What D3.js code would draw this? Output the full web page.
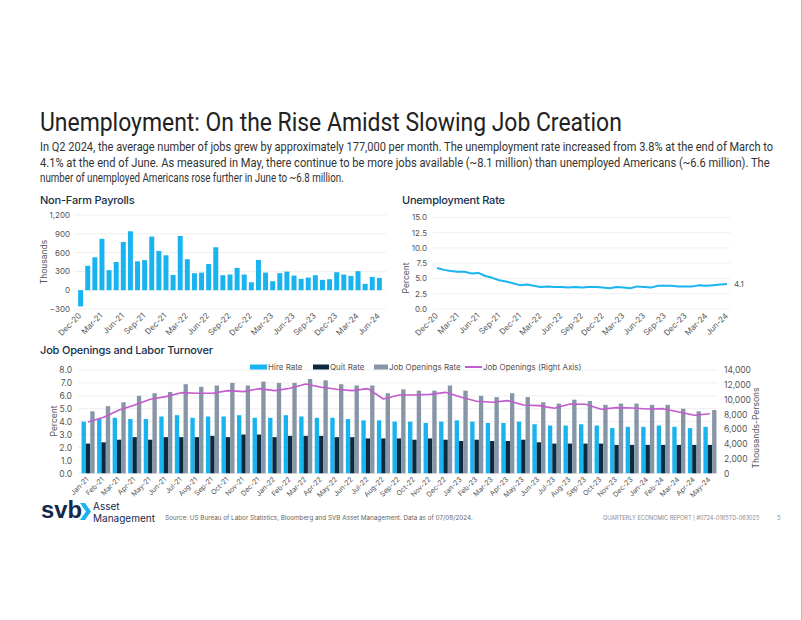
<!DOCTYPE html>
<html><head><meta charset="utf-8">
<script src="https://cdn.jsdelivr.net/npm/d3@7/dist/d3.min.js"></script>
<style>body{margin:0;background:#fff}svg{display:block}</style>
</head><body>
<script>
// ---------- DATA ----------
const nfpMonths = ["Dec-20","Jan-21","Feb-21","Mar-21","Apr-21","May-21","Jun-21","Jul-21","Aug-21","Sep-21","Oct-21","Nov-21","Dec-21",
"Jan-22","Feb-22","Mar-22","Apr-22","May-22","Jun-22","Jul-22","Aug-22","Sep-22","Oct-22","Nov-22","Dec-22",
"Jan-23","Feb-23","Mar-23","Apr-23","May-23","Jun-23","Jul-23","Aug-23","Sep-23","Oct-23","Nov-23","Dec-23",
"Jan-24","Feb-24","Mar-24","Apr-24","May-24","Jun-24"];
const nfpValues = [-260,390,525,820,320,450,770,940,460,480,855,627,557,
244,865,494,271,281,419,685,239,250,356,250,127,
483,281,143,271,297,234,181,202,239,165,175,287,
250,228,303,101,212,196];
const monthlyTicks = ["Dec-20","Mar-21","Jun-21","Sep-21","Dec-21","Mar-22","Jun-22","Sep-22","Dec-22","Mar-23","Jun-23","Sep-23","Dec-23","Mar-24","Jun-24"];
const nfpYTicks = [-300,0,300,600,900,1200];

const unempValues = [6.7,6.4,6.2,6.1,6.1,5.8,5.9,5.4,5.1,4.7,4.5,4.2,3.9,
4.0,3.8,3.6,3.7,3.6,3.6,3.5,3.6,3.5,3.6,3.6,3.5,
3.4,3.6,3.5,3.4,3.7,3.6,3.5,3.8,3.8,3.8,3.7,3.7,
3.7,3.9,3.8,3.9,4.0,4.1];
const unempYTicks = [0,2.5,5,7.5,10,12.5,15];

const joltsMonths = ["Jan-21","Feb-21","Mar-21","Apr-21","May-21","Jun-21","Jul-21","Aug-21","Sep-21","Oct-21","Nov-21","Dec-21",
"Jan-22","Feb-22","Mar-22","Apr-22","May-22","Jun-22","Jul-22","Aug-22","Sep-22","Oct-22","Nov-22","Dec-22",
"Jan-23","Feb-23","Mar-23","Apr-23","May-23","Jun-23","Jul-23","Aug-23","Sep-23","Oct-23","Nov-23","Dec-23",
"Jan-24","Feb-24","Mar-24","Apr-24","May-24"];
const hireRate = [4.0,4.2,4.3,4.2,4.2,4.4,4.5,4.3,4.4,4.4,4.5,4.3,
4.3,4.5,4.4,4.3,4.3,4.2,4.1,4.1,4.0,4.0,3.9,4.0,
4.1,4.0,3.9,3.9,4.0,3.8,3.7,3.7,3.8,3.7,3.5,3.6,
3.6,3.7,3.6,3.5,3.6];
const quitRate = [2.3,2.4,2.6,2.8,2.6,2.8,2.8,2.8,2.9,2.8,3.0,3.0,
2.8,2.9,2.9,2.9,2.8,2.8,2.7,2.7,2.7,2.6,2.7,2.6,
2.5,2.6,2.5,2.5,2.6,2.4,2.3,2.3,2.3,2.3,2.2,2.2,
2.2,2.2,2.2,2.2,2.2];
const openingsRate = [4.8,5.2,5.5,6.0,6.2,6.3,6.9,6.7,6.8,7.0,6.8,7.1,
7.0,7.0,7.3,7.2,6.9,6.8,6.8,6.2,6.5,6.4,6.4,6.8,
6.4,6.0,5.9,6.2,5.9,5.5,5.4,5.7,5.6,5.3,5.4,5.4,
5.3,5.3,5.0,4.8,4.9];
const jobOpenings = [6950,7590,8580,9260,10030,10390,10930,10840,10840,11200,11070,11470,
11200,11520,12100,11660,11390,11200,11470,10070,10610,10610,10700,10970,
10300,9760,9620,9850,9260,9170,8810,9390,9350,8670,8900,8850,
8720,8760,8310,7860,8080];
const joltsLeftTicks = [0,1,2,3,4,5,6,7,8];
const joltsRightTicks = [0,2000,4000,6000,8000,10000,12000,14000];
const seriesNames = ["Hire Rate","Quit Rate","Job Openings Rate","Job Openings (Right Axis)"];

// ---------- STYLE ----------
const C = {hire:"#19b3ef", quit:"#0c2a3f", open:"#8796a6", mag:"#c25bcb", line:"#1ab4f0", grid:"#efefef", tick:"#555", navy:"#17304a"};
const tickFont = "Inter, 'Noto Sans', sans-serif";
const narrow = "'Liberation Sans Narrow', 'Roboto', sans-serif";

const svg = d3.select("body").append("svg").attr("width",802).attr("height",620);
svg.append("rect").attr("width",802).attr("height",620).attr("fill","#fff");
svg.append("line").attr("x1",801.5).attr("x2",801.5).attr("y1",0).attr("y2",620).attr("stroke","#bbb");

// text fitted to a given width by horizontal scaling
function fitText(x,y,str,target,size,fill,family){
  const t = svg.append("text").attr("x",0).attr("y",0).attr("font-family",family).attr("font-size",size).attr("fill",fill).text(str);
  const w = t.node().getComputedTextLength();
  const k = w>0 ? target/w : 1;
  t.attr("transform",`translate(${x},${y}) scale(${k},1)`);
  return t;
}

// ---------- HEADER ----------
fitText(40,131,"Unemployment: On the Rise Amidst Slowing Job Creation",582,26,"#222",narrow);
const para = [
 ["In Q2 2024, the average number of jobs grew by approximately 177,000 per month. The unemployment rate increased from 3.8% at the end of March to",734],
 ["4.1% at the end of June. As measured in May, there continue to be more jobs available (~8.1 million) than unemployed Americans (~6.6 million). The",730],
 ["number of unemployed Americans rose further in June to ~6.8 million.",304]];
para.forEach((p,i)=>fitText(40,151+i*15.5,p[0],p[1],12.5,"#333",narrow));

function sectionTitle(x,y,t){svg.append("text").attr("x",x).attr("y",y).attr("font-family",tickFont)
  .attr("font-size",11).attr("font-weight",500).attr("fill",C.navy).attr("letter-spacing",-0.2).text(t);}
sectionTitle(40,204,"Non-Farm Payrolls");
sectionTitle(402,204,"Unemployment Rate");
sectionTitle(40,354,"Job Openings and Labor Turnover");

function styleAxis(g){g.select(".domain").remove();g.selectAll(".tick line").remove();
  g.selectAll("text").attr("font-family",tickFont).attr("font-size",8).attr("fill",C.tick);}
function rotX(g,dy){g.selectAll("text").attr("text-anchor","end").attr("transform",`translate(0,${dy}) rotate(-45)`).attr("dy","0.3em").attr("dx","-0.1em").attr("y",0);}

// ---------- CHART 1: NFP ----------
{
 const x = d3.scaleBand().domain(nfpMonths).range([76,384]).padding(0.3);
 const y = d3.scaleLinear().domain([-300,1200]).range([309,215]);
 svg.append("g").selectAll("line").data(nfpYTicks).join("line").attr("x1",74).attr("x2",386)
   .attr("y1",d=>y(d)).attr("y2",d=>y(d)).attr("stroke",C.grid);
 const ya = svg.append("g").attr("transform","translate(74,0)").call(d3.axisLeft(y).tickValues(nfpYTicks).tickFormat(d3.format(",")).tickSize(0).tickPadding(4));
 styleAxis(ya);
 svg.append("g").selectAll("rect").data(nfpValues).join("rect")
   .attr("x",(d,i)=>x(nfpMonths[i])).attr("width",x.bandwidth())
   .attr("y",d=>y(Math.max(0,d))).attr("height",d=>Math.abs(y(d)-y(0))).attr("fill",C.hire);
 const xa = svg.append("g").attr("transform","translate(0,310)").call(d3.axisBottom(x).tickValues(monthlyTicks).tickSize(0).tickPadding(0));
 styleAxis(xa); rotX(xa,4);
 svg.append("text").attr("transform","translate(47,262) rotate(-90)").attr("text-anchor","middle")
   .attr("font-family",tickFont).attr("font-size",8.5).attr("fill",C.tick).text("Thousands");
}

// ---------- CHART 2: Unemployment ----------
{
 const x = d3.scalePoint().domain(nfpMonths).range([437,727]);
 const y = d3.scaleLinear().domain([0,15]).range([309,217.3]);
 svg.append("g").selectAll("line").data(unempYTicks).join("line").attr("x1",433).attr("x2",730)
   .attr("y1",d=>y(d)).attr("y2",d=>y(d)).attr("stroke",C.grid);
 const ya = svg.append("g").attr("transform","translate(431,0)").call(d3.axisLeft(y).tickValues(unempYTicks).tickFormat(d3.format(".1f")).tickSize(0).tickPadding(4));
 styleAxis(ya);
 svg.append("path").datum(unempValues).attr("fill","none").attr("stroke",C.line).attr("stroke-width",2)
   .attr("stroke-linejoin","round")
   .attr("d",d3.line().x((d,i)=>x(nfpMonths[i])).y(d=>y(d)));
 svg.append("text").attr("x",734).attr("y",y(unempValues[unempValues.length-1])+3).attr("font-family",tickFont)
   .attr("font-size",8).attr("fill",C.tick).text(d3.format(".1f")(unempValues[unempValues.length-1]));
 const xa = svg.append("g").attr("transform","translate(0,310)").call(d3.axisBottom(x).tickValues(monthlyTicks).tickSize(0).tickPadding(0));
 styleAxis(xa); rotX(xa,4);
 svg.append("text").attr("transform","translate(409,278) rotate(-90)").attr("text-anchor","middle")
   .attr("font-family",tickFont).attr("font-size",8.5).attr("fill",C.tick).text("Percent");
}

// ---------- CHART 3: JOLTS ----------
{
 const x0 = d3.scaleBand().domain(joltsMonths).range([80,718]).paddingInner(0.16).paddingOuter(0.1);
 const x1 = d3.scaleBand().domain(seriesNames.slice(0,3)).range([0,x0.bandwidth()]);
 const y = d3.scaleLinear().domain([0,8]).range([473.3,370]);
 const yR = d3.scaleLinear().domain([0,14000]).range([473.3,370]);
 svg.append("g").selectAll("line").data(joltsLeftTicks).join("line").attr("x1",78).attr("x2",718)
   .attr("y1",d=>y(d)).attr("y2",d=>y(d)).attr("stroke",C.grid);
 const ya = svg.append("g").attr("transform","translate(76,0)").call(d3.axisLeft(y).tickValues(joltsLeftTicks).tickFormat(d3.format(".1f")).tickSize(0).tickPadding(4));
 styleAxis(ya); ya.selectAll("text").attr("font-size",8.5);
 const yra = svg.append("g").attr("transform","translate(720,0)").call(d3.axisRight(yR).tickValues(joltsRightTicks).tickFormat(d3.format(",")).tickSize(0).tickPadding(4));
 styleAxis(yra); yra.selectAll("text").attr("font-size",8.5);
 const series = [[hireRate,C.hire,seriesNames[0]],[quitRate,C.quit,seriesNames[1]],[openingsRate,C.open,seriesNames[2]]];
 series.forEach(([vals,col,name])=>{
   svg.append("g").selectAll("rect").data(vals).join("rect")
     .attr("x",(d,i)=>x0(joltsMonths[i])+x1(name)).attr("width",x1.bandwidth())
     .attr("y",d=>y(d)).attr("height",d=>y(0)-y(d)).attr("fill",col);
 });
 svg.append("path").datum(jobOpenings).attr("fill","none").attr("stroke",C.mag).attr("stroke-width",1.6)
   .attr("stroke-linejoin","round")
   .attr("d",d3.line().x((d,i)=>x0(joltsMonths[i])+x0.bandwidth()/2).y(d=>yR(d)));
 const xa = svg.append("g").attr("transform","translate(0,474)").call(d3.axisBottom(x0).tickSize(0).tickPadding(0));
 styleAxis(xa); xa.selectAll("text").attr("font-size",7); rotX(xa,4);
 svg.append("text").attr("transform","translate(57,421) rotate(-90)").attr("text-anchor","middle")
   .attr("font-family",tickFont).attr("font-size",8.5).attr("fill",C.tick).text("Percent");
 svg.append("text").attr("transform","translate(759,428) rotate(-90)").attr("text-anchor","middle")
   .attr("font-family",tickFont).attr("font-size",8.5).attr("fill",C.tick).text("Thousands-Persons");
 // legend
 const leg = [[250,17,C.hire,268,"rect"],[313,16,C.quit,330,"rect"],[374,14,C.open,389,"rect"],[465,17,C.mag,483,"line"]];
 leg.forEach((l,i)=>{
   if(l[4]==="rect") svg.append("rect").attr("x",l[0]).attr("y",364.5).attr("width",l[1]).attr("height",5).attr("fill",l[2]);
   else svg.append("line").attr("x1",l[0]).attr("x2",l[0]+l[1]).attr("y1",367).attr("y2",367).attr("stroke",l[2]).attr("stroke-width",2);
   svg.append("text").attr("x",l[3]).attr("y",370).attr("font-family",tickFont).attr("font-size",8).attr("fill",C.tick).text(seriesNames[i]);
 });
}

// ---------- FOOTER ----------
fitText(41,518,"svb",37,24,"#13294b","'Liberation Sans', Arial, sans-serif").attr("font-weight","bold");
svg.append("polygon").attr("points","80,503 85,503 91,511.5 85,520 80,520 86,511.5").attr("fill","#1ab2ee");
svg.append("text").attr("x",93).attr("y",510).attr("font-family",tickFont).attr("font-size",10).attr("fill","#13294b").text("Asset");
fitText(93,521.5,"Management",62,10,"#13294b",tickFont);
fitText(165,520,"Source: US Bureau of Labor Statistics, Bloomberg and SVB Asset Management. Data as of 07/08/2024.",308,6.5,"#666",tickFont);
fitText(603,520,"QUARTERLY ECONOMIC REPORT | #0724-0165TD-063025",157,5.5,"#8a8a8a",tickFont);
svg.append("text").attr("x",777).attr("y",520).attr("font-family",tickFont).attr("font-size",6).attr("fill","#8a8a8a").text("5");
</script>
</body></html>
